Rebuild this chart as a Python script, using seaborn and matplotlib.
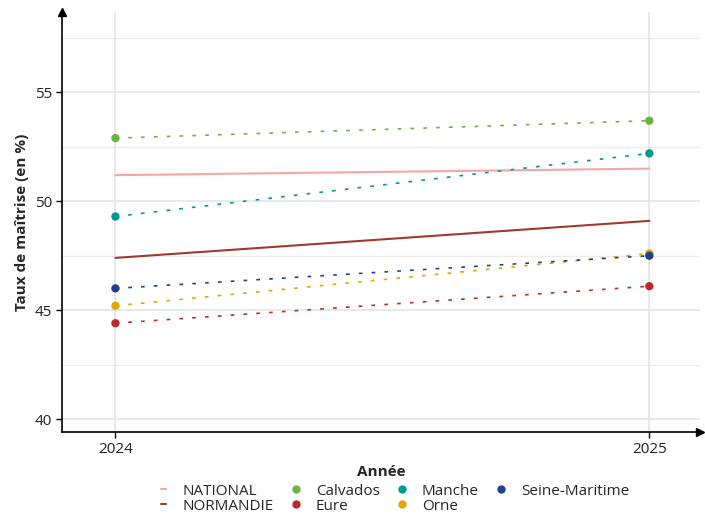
import matplotlib
matplotlib.use("Agg")
import matplotlib.pyplot as plt
from matplotlib.lines import Line2D
import numpy as np
import pandas as pd
import seaborn as sns

annees = [2024, 2025]
national = [51.2, 51.5]
normandie = [47.4, 49.1]
calvados = [52.9, 53.7]
eure = [44.4, 46.1]
manche = [49.3, 52.2]
orne = [45.2, 47.6]
seine_maritime = [46.0, 47.5]

references = {"NATIONAL": national, "NORMANDIE": normandie}
departements = {"Calvados": calvados, "Eure": eure, "Manche": manche,
                "Orne": orne, "Seine-Maritime": seine_maritime}

couleurs = {
    "NATIONAL": "#f4a7a2",
    "NORMANDIE": "#a23a2c",
    "Calvados": "#6db33f",
    "Eure": "#c1272d",
    "Manche": "#009a8a",
    "Orne": "#e3a600",
    "Seine-Maritime": "#233f94",
}

rows = []
for nom, vals in {**references, **departements}.items():
    for a, v in zip(annees, vals):
        rows.append({"annee": a, "taux": v, "zone": nom})
df = pd.DataFrame(rows)
df_ref = df[df.zone.isin(references)]
df_dep = df[df.zone.isin(departements)]

sns.set_theme(style="white")
plt.rcParams["font.family"] = ["Open Sans", "DejaVu Sans"]

fig = plt.figure(figsize=(7.05, 5.15), dpi=100)
ax = fig.add_axes([0.088, 0.161, 0.905, 0.816])

# grille
for y in [40, 45, 50, 55]:
    ax.axhline(y, color="#e3e3e3", lw=1.1, zorder=0)
for y in [42.5, 47.5, 52.5, 57.5]:
    ax.axhline(y, color="#ebebeb", lw=0.9, zorder=0)
for x in annees:
    ax.axvline(x, color="#e3e3e3", lw=1.1, zorder=0)

sns.lineplot(data=df_ref, x="annee", y="taux", hue="zone", palette=couleurs,
             lw=1.5, ax=ax, legend=False, zorder=2)
sns.lineplot(data=df_dep, x="annee", y="taux", hue="zone", palette=couleurs,
             lw=1.2, ax=ax, legend=False, zorder=3)
for line in ax.lines[-len(departements):]:
    line.set_linestyle((0, (2.2, 5.5)))
sns.scatterplot(data=df_dep, x="annee", y="taux", hue="zone", palette=couleurs,
                s=36, edgecolor="none", ax=ax, legend=False, zorder=4)

ax.set_xlim(2023.9, 2025.095)
ax.set_ylim(39.4, 58.7)
ax.set_xticks(annees)
ax.set_xticklabels([str(a) for a in annees])
ax.set_yticks([40, 45, 50, 55])

for s in ["top", "right"]:
    ax.spines[s].set_visible(False)
for s in ["left", "bottom"]:
    ax.spines[s].set_color("black")
    ax.spines[s].set_linewidth(1.2)
ax.plot(0, 1, marker="^", color="black", ms=6, transform=ax.transAxes, clip_on=False)
ax.plot(1, 0, marker=">", color="black", ms=6, transform=ax.transAxes, clip_on=False)

ax.tick_params(axis="both", which="major", length=4, width=1, color="black",
               labelsize=11, labelcolor="#222222", bottom=True, left=True, pad=3)
ax.set_xlabel("Année", fontsize=11, fontweight="bold", labelpad=6)
ax.set_ylabel("Taux de maîtrise (en %)", fontsize=11, fontweight="bold", labelpad=4)

ordre = ["NATIONAL", "NORMANDIE", "Calvados", "Eure", "Manche", "Orne", "Seine-Maritime"]
handles = []
for nom in ordre:
    if nom in references:
        handles.append(Line2D([0], [0], color=couleurs[nom], lw=1.5))
    else:
        handles.append(Line2D([0], [0], color=couleurs[nom], lw=0, marker="o", ms=5))
fig.legend(handles, ordre, loc="lower center", bbox_to_anchor=(0.56, -0.024), ncol=4,
           frameon=False, fontsize=11, handlelength=0.35, handletextpad=1.1,
           columnspacing=1.3, labelspacing=0.0)

fig.savefig("out.png", dpi=100)
